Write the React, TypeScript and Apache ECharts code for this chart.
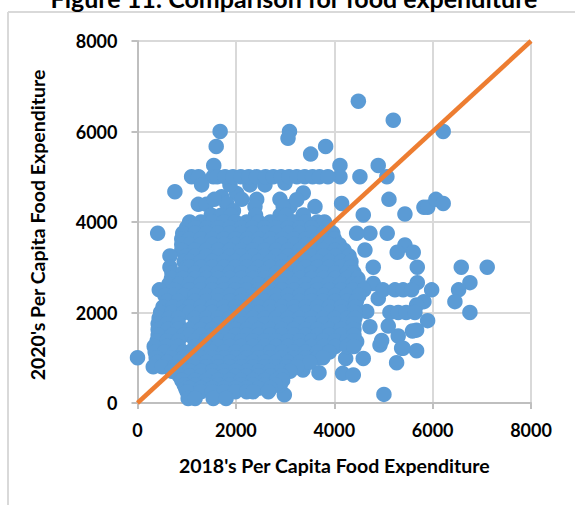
import React, { useEffect, useRef } from "react";
import * as echarts from "echarts";

const titleText = "Figure 11: Comparison for food expenditure";
const xName = "2018's Per Capita Food Expenditure";
const yName = "2020's Per Capita Food Expenditure";
const parityLine = [[0, 0], [8000, 8000]];

const outliers = [
  [1680, 6000], [1600, 5670], [1550, 5250], [760, 4670], [410, 3750], [3090, 6000], [3060, 5850],
  [4490, 6670], [5200, 6250], [6215, 6000], [3520, 5500], [3825, 5670], [4116, 5250], [4894, 5250],
  [4116, 5000], [4522, 5000], [5070, 5000], [1100, 5000], [1240, 5000], [1540, 5000], [5112, 4500],
  [4150, 4410], [3608, 4340], [3370, 4640], [3370, 4155], [3100, 4340], [5437, 4175], [5823, 4325],
  [5900, 4325], [6067, 4500], [6215, 4410], [4590, 4155], [5077, 3750], [5437, 3490], [4725, 3750],
  [4624, 3380], [5280, 3330], [5606, 3330], [4793, 3000], [5688, 3000], [6582, 3000], [7110, 3000],
  [6758, 2660], [6528, 2500], [6453, 2240], [6758, 2000], [5980, 2500], [5688, 2660], [4793, 2640],
  [5823, 2240], [5674, 2165], [5898, 1820], [5674, 1610], [5590, 1590], [5300, 1480], [5674, 1155],
  [5370, 1210], [5098, 1700], [4725, 1685], [4930, 1280], [4963, 1380], [4590, 985], [4232, 985],
  [5268, 890], [4170, 655], [4387, 620], [5010, 190], [3690, 670], [3364, 730], [2985, 180], [2900, 400],
  [4660, 2020], [4895, 2310], [4455, 1355], [5400, 1210], [1304, 4820], [1236, 4390], [1400, 4390],
  [1711, 4560], [2016, 4630], [2118, 4500], [2423, 4500], [2896, 4500], [2388, 4340], [2963, 4340],
  [1813, 4410], [2287, 4820], [2591, 4820], [2998, 4860], [1880, 4820], [3236, 4490], [1560, 4500], [1950, 4250],
];
const row5000 = [1620, 1780, 1940, 2100, 2260, 2420, 2600, 2760, 2920, 3080, 3240, 3400, 3560, 3700, 3870];
const row2500 = [4990, 5234, 5400, 5573];
const row2000 = [5132, 5300, 5460, 5640];
const row4150 = [2400, 2900, 1500, 1700, 1900, 3020];
const row4000 = [1060, 1290, 1520, 1760, 1990, 2220, 2460, 2700, 2940, 3180, 3420, 3660, 3800];
const row3875 = [1000, 1180, 1410, 1640, 1880, 2110, 2340, 2580, 2820, 3060, 3300, 3540, 3860];
const row3750 = [920, 1170, 1400, 1640, 1880, 2110, 2350, 2590, 2820, 3060, 3300, 3540, 3780, 3970, 4455];
const row3625 = [900, 1050, 1290, 1520, 1760, 1990, 2230, 2470, 2700, 2940, 3180, 3420, 3660, 3900, 4000];
const row3500 = [900, 1060, 1290, 1520, 1760, 1990, 2220, 2460, 2700, 2940, 3180, 3420, 3660, 3900, 4100];
const row3375 = [900, 1170, 1400, 1640, 1880, 2110, 2350, 2590, 2820, 3060, 3300, 3540, 3780, 4020, 4200];
const row3250 = [660, 1000, 1170, 1400, 1640, 1880, 2110, 2350, 2590, 2820, 3060, 3300, 3540, 3780, 4020, 4300];
const row3125 = [950, 1060, 1290, 1520, 1760, 1990, 2220, 2460, 2700, 2940, 3180, 3420, 3660, 3900, 4140, 4340];
const row3000 = [660, 1000, 1060, 1290, 1520, 1760, 1990, 2220, 2460, 2700, 2940, 3180, 3420, 3660, 3900, 4140, 4340];
const row2875 = [700, 920, 1170, 1400, 1640, 1880, 2110, 2350, 2590, 2820, 3060, 3300, 3540, 3780, 4020, 4260, 4400];
const row2750 = [690, 920, 1170, 1400, 1640, 1880, 2110, 2350, 2590, 2820, 3060, 3300, 3540, 3780, 4020, 4260, 4480];
const row2625 = [640, 850, 1060, 1290, 1520, 1760, 1990, 2220, 2460, 2700, 2940, 3180, 3420, 3660, 3900, 4140, 4380, 4500];
const row2500b = [443, 750, 1060, 1290, 1520, 1760, 1990, 2220, 2460, 2700, 2940, 3180, 3420, 3660, 3900, 4140, 4380, 4600];
const row2375 = [560, 740, 940, 1170, 1400, 1640, 1880, 2110, 2350, 2590, 2820, 3060, 3300, 3540, 3780, 4020, 4260, 4500];
const row2250 = [600, 830, 1170, 1400, 1640, 1880, 2110, 2350, 2590, 2820, 3060, 3300, 3540, 3780, 4020, 4260, 4450];
const row2125 = [520, 720, 940, 1060, 1290, 1520, 1760, 1990, 2220, 2460, 2700, 2940, 3180, 3420, 3660, 3900, 4140, 4430];
const row2000b = [470, 700, 940, 1060, 1290, 1520, 1760, 1990, 2220, 2460, 2700, 2940, 3180, 3420, 3660, 3900, 4140, 4420];
const row1875 = [440, 640, 830, 1170, 1400, 1640, 1880, 2110, 2350, 2590, 2820, 3060, 3300, 3540, 3780, 4020, 4260, 4420];
const row1750 = [420, 600, 830, 1170, 1400, 1640, 1880, 2110, 2350, 2590, 2820, 3060, 3300, 3540, 3780, 4020, 4260, 4400];
const row1625 = [420, 620, 820, 1060, 1290, 1520, 1760, 1990, 2220, 2460, 2700, 2940, 3180, 3420, 3660, 3900, 4140, 4400];
const row1500 = [420, 700, 940, 1060, 1290, 1520, 1760, 1990, 2220, 2460, 2700, 2940, 3180, 3420, 3660, 3900, 4140, 4400];
const row1375 = [400, 600, 830, 1170, 1400, 1640, 1880, 2110, 2350, 2590, 2820, 3060, 3300, 3540, 3780, 4020, 4260, 4400];
const row1250 = [340, 600, 830, 1170, 1400, 1640, 1880, 2110, 2350, 2590, 2820, 3060, 3300, 3540, 3780, 4020, 4260, 4400];
const row1125 = [360, 550, 760, 940, 1060, 1290, 1520, 1760, 1990, 2220, 2460, 2700, 2940, 3180, 3420, 3660, 3900];
const row1000 = [0, 380, 700, 940, 1060, 1290, 1520, 1760, 1990, 2220, 2460, 2700, 2940, 3180, 3420, 3660, 3770];
const row900 = [400, 600, 830, 1170, 1400, 1640, 1880, 2110, 2350, 2590, 2820, 3060, 3300, 3500];
const row800 = [320, 500, 760, 1170, 1400, 1640, 1880, 2110, 2350, 2590, 2820, 3030, 3240];
const row700 = [700, 940, 1060, 1290, 1520, 1760, 1990, 2220, 2460, 2700, 2940, 3100];
const row600 = [850, 1060, 1290, 1520, 1760, 1990, 2220, 2460, 2700, 2940];
const row500 = [900, 1170, 1400, 1640, 1880, 2110, 2350, 2590, 2820, 2950];
const row400 = [950, 1170, 1400, 1640, 1880, 2110, 2350, 2590, 2800];
const row325 = [980, 1060, 1290, 1520, 1760, 1990, 2220, 2460, 2700];
const row250 = [1010, 1290, 1520, 1760, 1990, 2220, 2350, 2660];
const row100 = [1030, 1170, 1540, 1800];

const rows: [number, number[]][] = [
  [5000, row5000], [2500, row2500], [2000, row2000], [4150, row4150], [4000, row4000], [3875, row3875], [3750, row3750],
  [3625, row3625], [3500, row3500], [3375, row3375], [3250, row3250], [3125, row3125], [3000, row3000], [2875, row2875],
  [2750, row2750], [2625, row2625], [2500, row2500b], [2375, row2375], [2250, row2250], [2125, row2125], [2000, row2000b],
  [1875, row1875], [1750, row1750], [1625, row1625], [1500, row1500], [1375, row1375], [1250, row1250], [1125, row1125],
  [1000, row1000], [900, row900], [800, row800], [700, row700], [600, row600], [500, row500], [400, row400], [325, row325],
  [250, row250], [100, row100],
];
const points = [...outliers, ...rows.flatMap(([y, xs]) => xs.map((x) => [x, y]))];

const font = "Lato";
const axisCommon = {
  type: "value" as const,
  min: 0,
  max: 8000,
  interval: 2000,
  nameLocation: "middle" as const,
  nameTextStyle: { fontFamily: font, fontWeight: "bold" as const, fontSize: 19.5, color: "#000" },
  axisLine: { show: true, onZero: false, lineStyle: { color: "#BFBFBF", width: 2 } },
  axisTick: { show: true, length: 6, lineStyle: { color: "#BFBFBF", width: 2 } },
  splitLine: { show: true, lineStyle: { color: "#D9D9D9", width: 2 } },
  axisLabel: { fontFamily: font, fontWeight: "bold" as const, fontSize: 18, color: "#000", formatter: (v: number) => String(v) },
};

export default function App() {
  const ref = useRef<HTMLDivElement>(null);
  useEffect(() => {
    const chart = echarts.init(ref.current!, undefined, { renderer: "svg" });
    chart.setOption({
      animation: false,
      backgroundColor: "#fff",
      title: {
        text: titleText,
        left: 289,
        top: -20,
        textAlign: "center",
        textStyle: { fontFamily: font, fontWeight: "bold", fontSize: 25, color: "#000" },
      },
      graphic: [
        { type: "line", shape: { x1: 8, y1: 12, x2: 575, y2: 12 }, style: { stroke: "#D9D9D9", lineWidth: 2 } },
        { type: "line", shape: { x1: 8, y1: 12, x2: 8, y2: 505 }, style: { stroke: "#D9D9D9", lineWidth: 2 } },
      ],
      grid: { left: 137.5, top: 41, width: 393.5, height: 362 },
      xAxis: { ...axisCommon, name: xName, nameGap: 52, axisLabel: { ...axisCommon.axisLabel, margin: 18 } },
      yAxis: {
        ...axisCommon,
        name: yName,
        nameGap: 90,
        nameTextStyle: { ...axisCommon.nameTextStyle, padding: [0, 6, 0, 0] },
        axisLabel: { ...axisCommon.axisLabel, margin: 20 },
      },
      series: [
        { type: "scatter", data: points, symbol: "circle", symbolSize: 15.5, clip: false, z: 3, itemStyle: { color: "#5B9BD5", opacity: 1 } },
        { type: "line", data: parityLine, showSymbol: false, symbol: "none", z: 4, lineStyle: { color: "#ED7D31", width: 4.5 } },
      ],
    });
    return () => chart.dispose();
  }, []);
  return <div ref={ref} style={{ position: "fixed", left: 0, top: 0, width: 575, height: 505 }} />;
}
